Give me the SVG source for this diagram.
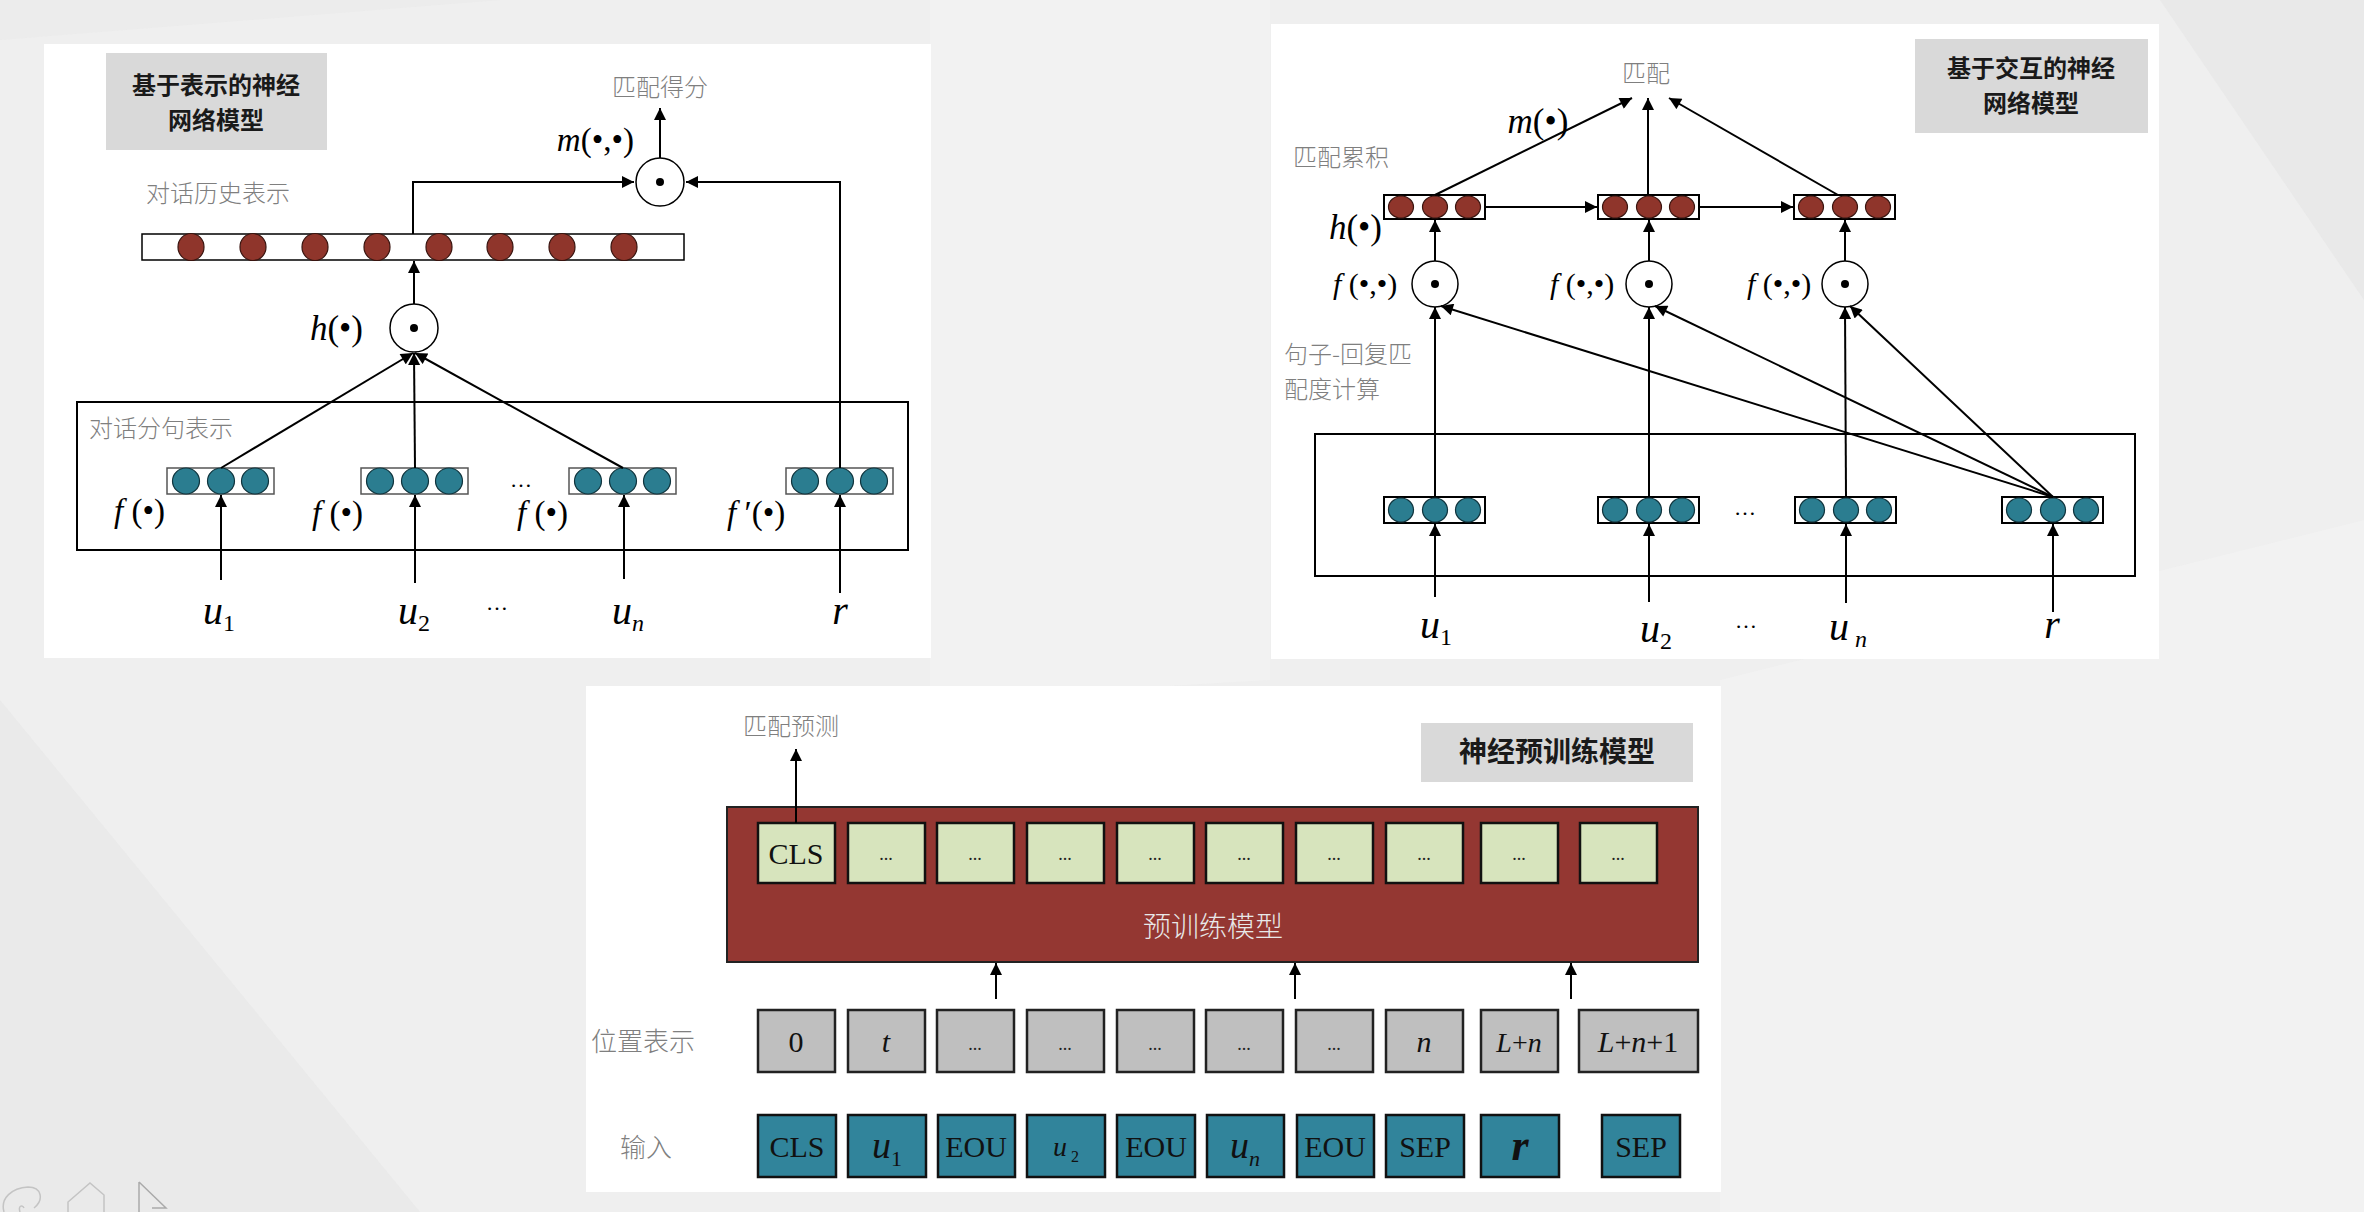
<svg xmlns="http://www.w3.org/2000/svg" width="2364" height="1212" viewBox="0 0 2364 1212">
<defs>
<marker id="ah" viewBox="0 0 10 10" refX="10" refY="5" markerWidth="14" markerHeight="12" markerUnits="userSpaceOnUse" orient="auto"><path d="M0,0 L10,5 L0,10 z" fill="#000"/></marker>
<style>
.panel{fill:#fff}
.title{fill:#d9d9d9}
.tt{font-family:"Noto Sans CJK SC",sans-serif;font-weight:bold;font-size:24px;fill:#1a1a1a;text-anchor:middle}
.cn{font-family:"Noto Sans CJK SC",sans-serif;font-size:24px;fill:#7f7f7f;font-weight:300}
.m{font-family:"Liberation Serif",serif;font-size:33px;fill:#000}
.lbl{font-family:"Liberation Serif",serif;font-size:40px;fill:#000;text-anchor:middle}
.sub{font-size:24px;font-style:normal}
.i{font-style:italic}
.dots{font-family:"Liberation Serif",serif;font-size:22px;fill:#000;text-anchor:middle}
.vbox{fill:#fff;stroke:#000;stroke-width:1.5}
.red{fill:#8f352b;stroke:#3a1510;stroke-width:1.2}
.teal{fill:#2b7d90;stroke:#10343d;stroke-width:1.2}
.op{fill:#fff;stroke:#000;stroke-width:1.5}
.frame{fill:none;stroke:#000;stroke-width:2}
.ar{fill:none;stroke:#000;stroke-width:2;marker-end:url(#ah)}
.gbox{fill:#d7e4bd;stroke:#111;stroke-width:2.5}
.pbox{fill:#bfbfbf;stroke:#222;stroke-width:2.5}
.ibox{fill:#31849b;stroke:#111;stroke-width:2.5}
.bt{font-family:"Liberation Serif",serif;font-size:30px;fill:#111;text-anchor:middle}
.bd{font-family:"Liberation Serif",serif;font-size:18px;fill:#222;text-anchor:middle}
</style>
</defs>
<rect width="2364" height="1212" fill="#efefef"/>
<g id="background-shapes" opacity="0.6">
<polygon points="0,700 420,1212 0,1212" fill="#e6e6e6"/>
<polygon points="930,0 1270,0 1270,680 930,700" fill="#f3f3f3"/>
<polygon points="1720,680 2364,520 2364,1212 1720,1212" fill="#f4f4f4"/>
<polygon points="2160,0 2364,0 2364,300" fill="#e4e4e4"/>
<polygon points="0,0 500,0 0,40" fill="#e9e9e9"/>
</g>

<!-- Panel 1 -->
<g id="panel1">
<rect class="panel" x="44" y="44" width="887" height="614"/>
<g id="p1-title"><rect class="title" x="106" y="53" width="221" height="97"/><text class="tt" x="216" y="94">基于表示的神经</text><text class="tt" x="216" y="129">网络模型</text></g>
<g id="p1-score"><text class="cn" x="660" y="96" text-anchor="middle">匹配得分</text></g>
<g id="p1-m"><circle class="op" cx="660" cy="182" r="24"/><circle cx="660" cy="182" r="4" fill="#000"/><text class="m" x="634" y="151" text-anchor="end"><tspan class="i">m</tspan>(•,•)</text></g>
<g id="p1-hist-label"><text class="cn" x="146" y="202">对话历史表示</text></g>
<g id="p1-hist"><rect class="vbox" x="142" y="234" width="542" height="26"/>
<ellipse class="red" cx="191" cy="247" rx="13" ry="13.5"/><ellipse class="red" cx="253" cy="247" rx="13" ry="13.5"/><ellipse class="red" cx="315" cy="247" rx="13" ry="13.5"/><ellipse class="red" cx="377" cy="247" rx="13" ry="13.5"/><ellipse class="red" cx="439" cy="247" rx="13" ry="13.5"/><ellipse class="red" cx="500" cy="247" rx="13" ry="13.5"/><ellipse class="red" cx="562" cy="247" rx="13" ry="13.5"/><ellipse class="red" cx="624" cy="247" rx="13" ry="13.5"/></g>
<g id="p1-h"><circle class="op" cx="414" cy="328" r="24"/><circle cx="414" cy="328" r="4" fill="#000"/><text class="m" x="363" y="340" text-anchor="end" style="font-size:35px"><tspan class="i">h</tspan>(•)</text></g>
<g id="p1-utt-frame"><rect class="frame" x="77" y="402" width="831" height="148"/><text class="cn" x="89" y="437">对话分句表示</text></g>
<g id="p1-v1"><rect class="vbox" x="167" y="468" width="107" height="26" style="stroke:#555"/><ellipse class="teal" cx="186" cy="481" rx="13.5" ry="13"/><ellipse class="teal" cx="221" cy="481" rx="13.5" ry="13"/><ellipse class="teal" cx="255" cy="481" rx="13.5" ry="13"/><text class="m" x="114" y="522"><tspan class="i">f</tspan> (•)</text></g>
<g id="p1-v2"><rect class="vbox" x="361" y="468" width="107" height="26" style="stroke:#555"/><ellipse class="teal" cx="380" cy="481" rx="13.5" ry="13"/><ellipse class="teal" cx="415" cy="481" rx="13.5" ry="13"/><ellipse class="teal" cx="449" cy="481" rx="13.5" ry="13"/><text class="m" x="312" y="524"><tspan class="i">f</tspan> (•)</text></g>
<g id="p1-v3"><rect class="vbox" x="569" y="468" width="107" height="26" style="stroke:#555"/><ellipse class="teal" cx="588" cy="481" rx="13.5" ry="13"/><ellipse class="teal" cx="623" cy="481" rx="13.5" ry="13"/><ellipse class="teal" cx="657" cy="481" rx="13.5" ry="13"/><text class="m" x="517" y="524"><tspan class="i">f</tspan> (•)</text></g>
<g id="p1-v4"><rect class="vbox" x="786" y="468" width="107" height="26" style="stroke:#555"/><ellipse class="teal" cx="805" cy="481" rx="13.5" ry="13"/><ellipse class="teal" cx="840" cy="481" rx="13.5" ry="13"/><ellipse class="teal" cx="874" cy="481" rx="13.5" ry="13"/><text class="m" x="727" y="524"><tspan class="i">f</tspan> ′(•)</text></g>
<text class="dots" x="521" y="487">…</text>
<g id="p1-inputs">
<text class="lbl" x="219" y="624"><tspan class="i">u</tspan><tspan class="sub" dy="7">1</tspan></text>
<text class="lbl" x="414" y="624"><tspan class="i">u</tspan><tspan class="sub" dy="7">2</tspan></text>
<text class="dots" x="497" y="610">…</text>
<text class="lbl" x="628" y="624"><tspan class="i">u</tspan><tspan dy="7" style="font-size:24px;font-style:italic">n</tspan></text>
<text class="lbl i" x="840" y="624">r</text>
</g>
</g>

<!-- Panel 2 -->
<g id="panel2">
<rect class="panel" x="1271" y="24" width="888" height="635"/>
<g id="p2-title"><rect class="title" x="1915" y="39" width="233" height="94"/><text class="tt" x="2031" y="77">基于交互的神经</text><text class="tt" x="2031" y="112">网络模型</text></g>
<g id="p2-match"><text class="cn" x="1646" y="82" text-anchor="middle">匹配</text><text class="m" x="1538" y="133" text-anchor="middle" style="font-size:35px"><tspan class="i">m</tspan>(•)</text></g>
<g id="p2-acc-label"><text class="cn" x="1293" y="166">匹配累积</text><text class="m" x="1382" y="239" text-anchor="end" style="font-size:35px"><tspan class="i">h</tspan>(•)</text></g>
<g id="p2-h1"><rect class="vbox" x="1384" y="195" width="101" height="24" style="stroke-width:2"/><ellipse class="red" cx="1401" cy="207" rx="12.5" ry="11"/><ellipse class="red" cx="1435" cy="207" rx="12.5" ry="11"/><ellipse class="red" cx="1468" cy="207" rx="12.5" ry="11"/></g>
<g id="p2-h2"><rect class="vbox" x="1598" y="195" width="101" height="24" style="stroke-width:2"/><ellipse class="red" cx="1615" cy="207" rx="12.5" ry="11"/><ellipse class="red" cx="1649" cy="207" rx="12.5" ry="11"/><ellipse class="red" cx="1682" cy="207" rx="12.5" ry="11"/></g>
<g id="p2-h3"><rect class="vbox" x="1794" y="195" width="101" height="24" style="stroke-width:2"/><ellipse class="red" cx="1811" cy="207" rx="12.5" ry="11"/><ellipse class="red" cx="1845" cy="207" rx="12.5" ry="11"/><ellipse class="red" cx="1878" cy="207" rx="12.5" ry="11"/></g>
<g id="p2-f1"><circle class="op" cx="1435" cy="284" r="23"/><circle cx="1435" cy="284" r="4" fill="#000"/><text class="m" x="1333" y="294" style="font-size:30px"><tspan class="i">f</tspan> (•,•)</text></g>
<g id="p2-f2"><circle class="op" cx="1649" cy="284" r="23"/><circle cx="1649" cy="284" r="4" fill="#000"/><text class="m" x="1550" y="294" style="font-size:30px"><tspan class="i">f</tspan> (•,•)</text></g>
<g id="p2-f3"><circle class="op" cx="1845" cy="284" r="23"/><circle cx="1845" cy="284" r="4" fill="#000"/><text class="m" x="1747" y="294" style="font-size:30px"><tspan class="i">f</tspan> (•,•)</text></g>
<g id="p2-sr-label"><text class="cn" x="1284" y="363">句子-回复匹</text><text class="cn" x="1284" y="398">配度计算</text></g>
<g id="p2-frame"><rect class="frame" x="1315" y="434" width="820" height="142"/></g>
<g id="p2-v1"><rect class="vbox" x="1384" y="497" width="101" height="26" style="stroke-width:2"/><ellipse class="teal" cx="1401" cy="510" rx="12.5" ry="12"/><ellipse class="teal" cx="1435" cy="510" rx="12.5" ry="12"/><ellipse class="teal" cx="1468" cy="510" rx="12.5" ry="12"/></g>
<g id="p2-v2"><rect class="vbox" x="1598" y="497" width="101" height="26" style="stroke-width:2"/><ellipse class="teal" cx="1615" cy="510" rx="12.5" ry="12"/><ellipse class="teal" cx="1649" cy="510" rx="12.5" ry="12"/><ellipse class="teal" cx="1682" cy="510" rx="12.5" ry="12"/></g>
<g id="p2-v3"><rect class="vbox" x="1795" y="497" width="101" height="26" style="stroke-width:2"/><ellipse class="teal" cx="1812" cy="510" rx="12.5" ry="12"/><ellipse class="teal" cx="1846" cy="510" rx="12.5" ry="12"/><ellipse class="teal" cx="1879" cy="510" rx="12.5" ry="12"/></g>
<g id="p2-v4"><rect class="vbox" x="2002" y="497" width="101" height="26" style="stroke-width:2"/><ellipse class="teal" cx="2019" cy="510" rx="12.5" ry="12"/><ellipse class="teal" cx="2053" cy="510" rx="12.5" ry="12"/><ellipse class="teal" cx="2086" cy="510" rx="12.5" ry="12"/></g>
<text class="dots" x="1745" y="515">…</text>
<g id="p2-inputs">
<text class="lbl" x="1436" y="638"><tspan class="i">u</tspan><tspan class="sub" dy="7">1</tspan></text>
<text class="lbl" x="1656" y="642"><tspan class="i">u</tspan><tspan class="sub" dy="7">2</tspan></text>
<text class="dots" x="1746" y="628">…</text>
<text class="lbl" x="1848" y="640"><tspan class="i">u</tspan><tspan dy="7" style="font-size:24px;font-style:italic"> n</tspan></text>
<text class="lbl i" x="2052" y="638">r</text>
</g>
</g>

<!-- Panel 3 -->
<g id="panel3">
<rect class="panel" x="586" y="686" width="1135" height="506"/>
<g id="p3-pred"><text class="cn" x="743" y="735">匹配预测</text></g>
<g id="p3-title"><rect class="title" x="1421" y="723" width="272" height="59"/><text class="tt" x="1557" y="762" style="font-size:28px">神经预训练模型</text></g>
<g id="p3-model"><rect x="727" y="807" width="971" height="155" fill="#943732" stroke="#222" stroke-width="2"/><text x="1213" y="937" text-anchor="middle" style="font-family:'Noto Sans CJK SC',sans-serif;font-size:28px;fill:#e8e8e8;font-weight:300">预训练模型</text></g>
<g id="p3-out">
<rect class="gbox" x="758" y="823" width="77" height="60"/><text class="bt" x="796" y="864">CLS</text>
<rect class="gbox" x="848" y="823" width="77" height="60"/><text class="bd" x="886" y="860">...</text>
<rect class="gbox" x="937" y="823" width="77" height="60"/><text class="bd" x="975" y="860">...</text>
<rect class="gbox" x="1027" y="823" width="77" height="60"/><text class="bd" x="1065" y="860">...</text>
<rect class="gbox" x="1117" y="823" width="77" height="60"/><text class="bd" x="1155" y="860">...</text>
<rect class="gbox" x="1206" y="823" width="77" height="60"/><text class="bd" x="1244" y="860">...</text>
<rect class="gbox" x="1296" y="823" width="77" height="60"/><text class="bd" x="1334" y="860">...</text>
<rect class="gbox" x="1386" y="823" width="77" height="60"/><text class="bd" x="1424" y="860">...</text>
<rect class="gbox" x="1481" y="823" width="77" height="60"/><text class="bd" x="1519" y="860">...</text>
<rect class="gbox" x="1580" y="823" width="77" height="60"/><text class="bd" x="1618" y="860">...</text>
</g>
<g id="p3-pos">
<text class="cn" x="591" y="1051" style="font-size:26px">位置表示</text>
<rect class="pbox" x="758" y="1010" width="77" height="62"/><text class="bt" x="796" y="1052">0</text>
<rect class="pbox" x="848" y="1010" width="77" height="62"/><text class="bt i" x="886" y="1052">t</text>
<rect class="pbox" x="937" y="1010" width="77" height="62"/><text class="bd" x="975" y="1050">...</text>
<rect class="pbox" x="1027" y="1010" width="77" height="62"/><text class="bd" x="1065" y="1050">...</text>
<rect class="pbox" x="1117" y="1010" width="77" height="62"/><text class="bd" x="1155" y="1050">...</text>
<rect class="pbox" x="1206" y="1010" width="77" height="62"/><text class="bd" x="1244" y="1050">...</text>
<rect class="pbox" x="1296" y="1010" width="77" height="62"/><text class="bd" x="1334" y="1050">...</text>
<rect class="pbox" x="1386" y="1010" width="77" height="62"/><text class="bt i" x="1424" y="1052">n</text>
<rect class="pbox" x="1481" y="1010" width="77" height="62"/><text class="bt" x="1519" y="1052" style="font-size:28px"><tspan class="i">L</tspan>+<tspan class="i">n</tspan></text>
<rect class="pbox" x="1579" y="1010" width="119" height="62"/><text class="bt" x="1638" y="1052"><tspan class="i">L</tspan>+<tspan class="i">n</tspan>+1</text>
</g>
<g id="p3-input">
<text class="cn" x="620" y="1157" style="font-size:26px">输入</text>
<rect class="ibox" x="758" y="1115" width="78" height="62"/><text class="bt" x="797" y="1157">CLS</text>
<rect class="ibox" x="848" y="1115" width="78" height="62"/><text class="bt" x="887" y="1158" style="font-size:38px"><tspan class="i">u</tspan><tspan dy="8" style="font-size:22px">1</tspan></text>
<rect class="ibox" x="938" y="1115" width="77" height="62"/><text class="bt" x="976" y="1157">EOU</text>
<rect class="ibox" x="1027" y="1115" width="78" height="62"/><text class="bt" x="1066" y="1156" style="font-size:28px"><tspan class="i">u</tspan><tspan dy="6" style="font-size:16px"> 2</tspan></text>
<rect class="ibox" x="1117" y="1115" width="78" height="62"/><text class="bt" x="1156" y="1157">EOU</text>
<rect class="ibox" x="1207" y="1115" width="77" height="62"/><text class="bt" x="1245" y="1158" style="font-size:38px"><tspan class="i">u</tspan><tspan dy="8" style="font-size:22px;font-style:italic">n</tspan></text>
<rect class="ibox" x="1297" y="1115" width="77" height="62"/><text class="bt" x="1335" y="1157">EOU</text>
<rect class="ibox" x="1386" y="1115" width="78" height="62"/><text class="bt" x="1425" y="1157">SEP</text>
<rect class="ibox" x="1481" y="1115" width="78" height="62"/><text class="bt i" x="1520" y="1160" style="font-size:44px;font-weight:bold">r</text>
<rect class="ibox" x="1602" y="1115" width="78" height="62"/><text class="bt" x="1641" y="1157">SEP</text>
</g>
</g>

<g id="connectors">
<line class="ar" x1="660" y1="158" x2="660" y2="108"/>
<polyline class="ar" points="413,234 413,182 634,182"/>
<polyline class="ar" points="840,468 840,182 686,182"/>
<line class="ar" x1="414" y1="304" x2="414" y2="261"/>
<line class="ar" x1="221" y1="468" x2="413" y2="353"/>
<line class="ar" x1="415" y1="468" x2="414" y2="353"/>
<line class="ar" x1="623" y1="468" x2="415" y2="353"/>
<line class="ar" x1="221" y1="580" x2="221" y2="495"/>
<line class="ar" x1="415" y1="583" x2="415" y2="495"/>
<line class="ar" x1="624" y1="579" x2="624" y2="495"/>
<line class="ar" x1="840" y1="593" x2="840" y2="495"/>
<line class="ar" x1="1435" y1="195" x2="1632" y2="98"/>
<line class="ar" x1="1648" y1="195" x2="1648" y2="98"/>
<line class="ar" x1="1838" y1="195" x2="1669" y2="98"/>
<line class="ar" x1="1485" y1="207" x2="1597" y2="207"/>
<line class="ar" x1="1699" y1="207" x2="1793" y2="207"/>
<line class="ar" x1="1435" y1="261" x2="1435" y2="220"/>
<line class="ar" x1="1649" y1="261" x2="1649" y2="220"/>
<line class="ar" x1="1845" y1="261" x2="1845" y2="220"/>
<line class="ar" x1="1435" y1="497" x2="1435" y2="307"/>
<line class="ar" x1="1649" y1="497" x2="1649" y2="307"/>
<line class="ar" x1="1846" y1="497" x2="1845" y2="307"/>
<line class="ar" x1="2053" y1="497" x2="1441" y2="306"/>
<line class="ar" x1="2053" y1="497" x2="1655" y2="306"/>
<line class="ar" x1="2053" y1="497" x2="1850" y2="306"/>
<line class="ar" x1="1435" y1="597" x2="1435" y2="524"/>
<line class="ar" x1="1649" y1="602" x2="1649" y2="524"/>
<line class="ar" x1="1846" y1="603" x2="1846" y2="524"/>
<line class="ar" x1="2053" y1="612" x2="2053" y2="524"/>
<line class="ar" x1="796" y1="823" x2="796" y2="749"/>
<line class="ar" x1="996" y1="999" x2="996" y2="963"/>
<line class="ar" x1="1295" y1="999" x2="1295" y2="963"/>
<line class="ar" x1="1571" y1="999" x2="1571" y2="963"/>
</g>

<g id="toolbar" fill="none" stroke="#c4c4c4" stroke-width="1.5">
<path d="M4,1212 C0,1198 12,1188 28,1187 C42,1187 44,1200 34,1208 M20,1212 C18,1206 22,1204 24,1208"/>
<path d="M68,1212 L68,1202 L90,1183 L104,1195 L104,1212"/>
<path d="M139,1182 L139,1212 M139,1182 L166,1208 L152,1208" stroke="#aaa"/>
</g>
</svg>
